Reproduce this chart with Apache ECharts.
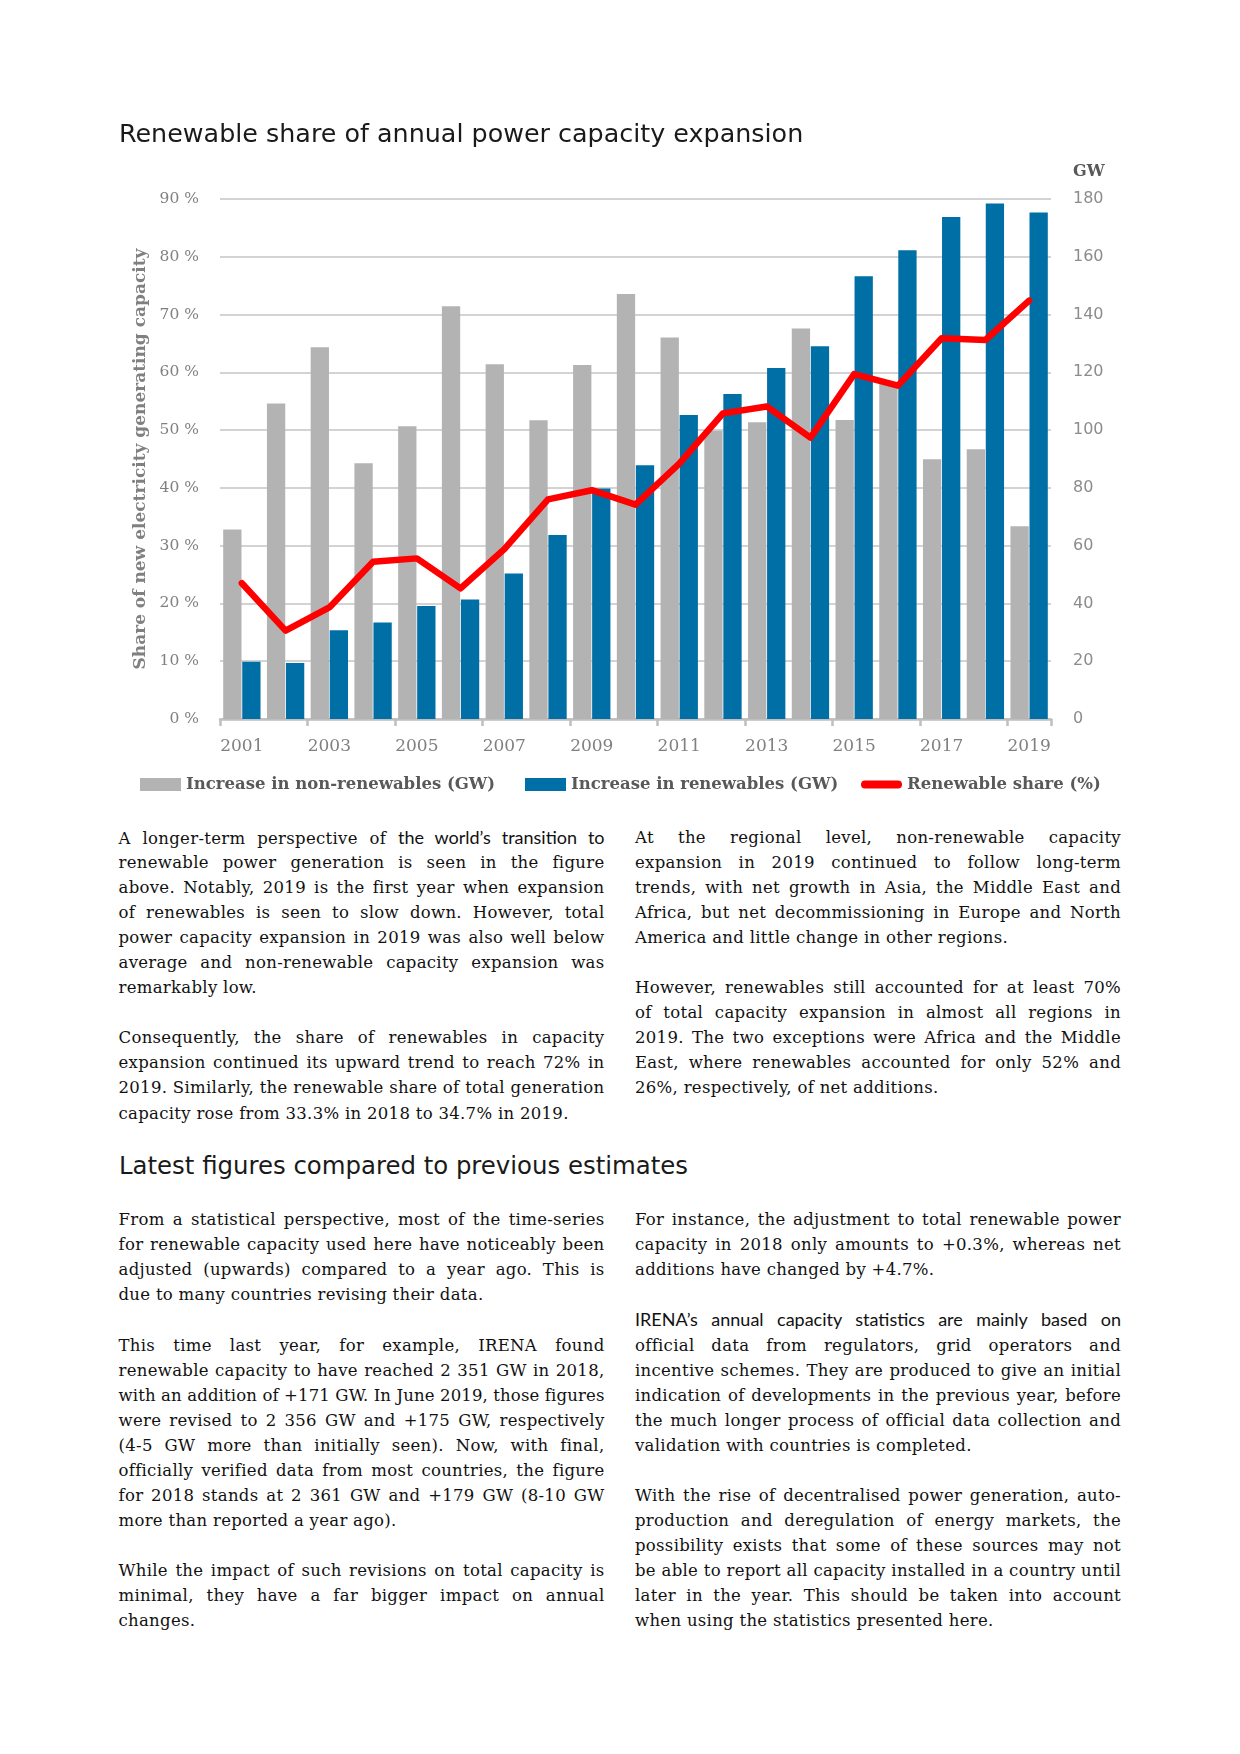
<!DOCTYPE html>
<html>
<head>
<meta charset="utf-8">
<script src="https://cdn.jsdelivr.net/npm/echarts@6/dist/echarts.min.js"></script>
<style>
  html, body { margin:0; padding:0; background:#fff; }
  body { width:1240px; height:1754px; position:relative; overflow:hidden; }
  #chart { position:absolute; left:0; top:0; width:1240px; height:810px; }
  .col { position:absolute; width:486px; font-family:"DejaVu Serif", serif; font-size:16.5px; letter-spacing:0.3px; color:#111; }
  .ln { height:25.05px; line-height:25.05px; white-space:nowrap; }
  .ln span.t { display:inline-block; }
  .gap { height:25.05px; }
  .sans { font-family:Lato, "Open Sans", sans-serif; font-size:18px; letter-spacing:0; }
  h2 { position:absolute; left:119px; top:1151px; margin:0; font-family:"DejaVu Sans", sans-serif; font-weight:normal; font-size:24.4px; line-height:30px; color:#1a1a1a; }
</style>
</head>
<body>
<div id="chart"></div>

<div class="col" style="left:118.5px; top:825px;">
  <div class="ln j"><span class="t">A longer-term perspective of <span class="sans">the world’s transition to</span></span></div>
  <div class="ln j"><span class="t">renewable power generation is seen in the figure</span></div>
  <div class="ln j"><span class="t">above. Notably, 2019 is the first year when expansion</span></div>
  <div class="ln j"><span class="t">of renewables is seen to slow down. However, total</span></div>
  <div class="ln j"><span class="t">power capacity expansion in 2019 was also well below</span></div>
  <div class="ln j"><span class="t">average and non-renewable capacity expansion was</span></div>
  <div class="ln"><span class="t">remarkably low.</span></div>
  <div class="gap"></div>
  <div class="ln j"><span class="t">Consequently, the share of renewables in capacity</span></div>
  <div class="ln j"><span class="t">expansion continued its upward trend to reach 72% in</span></div>
  <div class="ln j"><span class="t">2019. Similarly, the renewable share of total generation</span></div>
  <div class="ln"><span class="t">capacity rose from 33.3% in 2018 to 34.7% in 2019.</span></div>
</div>

<div class="col" style="left:635px; top:825px;">
  <div class="ln j"><span class="t">At the regional level, non-renewable capacity</span></div>
  <div class="ln j"><span class="t">expansion in 2019 continued to follow long-term</span></div>
  <div class="ln j"><span class="t">trends, with net growth in Asia, the Middle East and</span></div>
  <div class="ln j"><span class="t">Africa, but net decommissioning in Europe and North</span></div>
  <div class="ln"><span class="t">America and little change in other regions.</span></div>
  <div class="gap"></div>
  <div class="ln j"><span class="t">However, renewables still accounted for at least 70%</span></div>
  <div class="ln j"><span class="t">of total capacity expansion in almost all regions in</span></div>
  <div class="ln j"><span class="t">2019. The two exceptions were Africa and the Middle</span></div>
  <div class="ln j"><span class="t">East, where renewables accounted for only 52% and</span></div>
  <div class="ln"><span class="t">26%, respectively, of net additions.</span></div>
</div>

<h2>Latest figures compared to previous estimates</h2>

<div class="col" style="left:118.5px; top:1207.3px;">
  <div class="ln j"><span class="t">From a statistical perspective, most of the time-series</span></div>
  <div class="ln j"><span class="t">for renewable capacity used here have noticeably been</span></div>
  <div class="ln j"><span class="t">adjusted (upwards) compared to a year ago. This is</span></div>
  <div class="ln"><span class="t">due to many countries revising their data.</span></div>
  <div class="gap"></div>
  <div class="ln j"><span class="t">This time last year, for example, IRENA found</span></div>
  <div class="ln j"><span class="t">renewable capacity to have reached 2 351 GW in 2018,</span></div>
  <div class="ln j"><span class="t">with an addition of +171 GW. In June 2019, those figures</span></div>
  <div class="ln j"><span class="t">were revised to 2 356 GW and +175 GW, respectively</span></div>
  <div class="ln j"><span class="t">(4-5 GW more than initially seen). Now, with final,</span></div>
  <div class="ln j"><span class="t">officially verified data from most countries, the figure</span></div>
  <div class="ln j"><span class="t">for 2018 stands at 2 361 GW and +179 GW (8-10 GW</span></div>
  <div class="ln"><span class="t">more than reported a year ago).</span></div>
  <div class="gap"></div>
  <div class="ln j"><span class="t">While the impact of such revisions on total capacity is</span></div>
  <div class="ln j"><span class="t">minimal, they have a far bigger impact on annual</span></div>
  <div class="ln"><span class="t">changes.</span></div>
</div>

<div class="col" style="left:635px; top:1207.3px;">
  <div class="ln j"><span class="t">For instance, the adjustment to total renewable power</span></div>
  <div class="ln j"><span class="t">capacity in 2018 only amounts to +0.3%, whereas net</span></div>
  <div class="ln"><span class="t">additions have changed by +4.7%.</span></div>
  <div class="gap"></div>
  <div class="ln j"><span class="t"><span class="sans">IRENA’s annual capacity statistics are mainly based on</span></span></div>
  <div class="ln j"><span class="t">official data from regulators, grid operators and</span></div>
  <div class="ln j"><span class="t">incentive schemes. They are produced to give an initial</span></div>
  <div class="ln j"><span class="t">indication of developments in the previous year, before</span></div>
  <div class="ln j"><span class="t">the much longer process of official data collection and</span></div>
  <div class="ln"><span class="t">validation with countries is completed.</span></div>
  <div class="gap"></div>
  <div class="ln j"><span class="t">With the rise of decentralised power generation, auto-</span></div>
  <div class="ln j"><span class="t">production and deregulation of energy markets, the</span></div>
  <div class="ln j"><span class="t">possibility exists that some of these sources may not</span></div>
  <div class="ln j"><span class="t">be able to report all capacity installed in a country until</span></div>
  <div class="ln j"><span class="t">later in the year. This should be taken into account</span></div>
  <div class="ln"><span class="t">when using the statistics presented here.</span></div>
</div>

<script>
// ---- data ----
const years = ['2001','2002','2003','2004','2005','2006','2007','2008','2009','2010',
               '2011','2012','2013','2014','2015','2016','2017','2018','2019'];
const nonRenewablesGW = [65.6, 109.2, 128.7, 88.5, 101.3, 142.9, 122.8, 103.4, 122.5, 147.1,
                         132.1, 99.8, 102.7, 135.2, 103.5, 116.5, 89.9, 93.4, 66.7];
const renewablesGW = [19.8, 19.4, 30.7, 33.4, 39.1, 41.4, 50.4, 63.7, 79.8, 87.8,
                      105.2, 112.5, 121.5, 129.0, 153.3, 162.3, 173.8, 178.4, 175.3];
const renewableSharePct = [23.5, 15.3, 19.3, 27.2, 27.8, 22.6, 29.4, 38.0, 39.6, 37.1,
                           44.2, 52.9, 54.1, 48.7, 59.7, 57.7, 65.9, 65.6, 72.4];
const shareAxis = { min: 0, max: 90, step: 10 };
const gwAxis = { min: 0, max: 180, step: 20 };
const seriesNames = ['Increase in non-renewables (GW)', 'Increase in renewables (GW)', 'Renewable share (%)'];

const GRAY = '#b3b3b3', BLUE = '#006fa6', RED = '#ff0000';
const legendText = { fontFamily: 'DejaVu Serif', fontWeight: 'bold', fontSize: 16.5, color: '#595959' };

const chart = echarts.init(document.getElementById('chart'), null, { renderer: 'canvas' });
chart.setOption({
  animation: false,
  title: {
    text: 'Renewable share of annual power capacity expansion',
    left: 119, top: 123, padding: 0,
    textStyle: { fontFamily: 'DejaVu Sans', fontWeight: 'normal', fontSize: 25.4, color: '#1a1a1a' }
  },
  grid: { left: 220, right: 189, top: 199, bottom: 91, containLabel: false },
  legend: [
    { left: 140, top: 776, padding: 0, data: [{ name: seriesNames[0], icon: 'rect' }],
      itemWidth: 41, itemHeight: 13, itemGap: 0, textStyle: legendText, itemStyle: { borderWidth: 0 } },
    { left: 525, top: 776, padding: 0, data: [{ name: seriesNames[1], icon: 'rect' }],
      itemWidth: 41, itemHeight: 13, itemGap: 0, textStyle: legendText, itemStyle: { borderWidth: 0 } },
    { left: 861, top: 776, padding: 0,
      data: [{ name: seriesNames[2], icon: 'path://M4,0 L37,0 A4,4 0 0 1 37,8 L4,8 A4,4 0 0 1 4,0 Z' }],
      itemWidth: 41, itemHeight: 13, itemGap: 0, textStyle: legendText,
      itemStyle: { borderWidth: 0 }, lineStyle: { width: 0 } }
  ],
  graphic: [{
    type: 'text', left: 1073, top: 164,
    style: { text: 'GW', font: 'bold 16px "DejaVu Serif"', fill: '#595959' }
  }],
  xAxis: {
    type: 'category', data: years,
    axisLine: { lineStyle: { color: '#bfbfbf', width: 2.5 } },
    axisTick: { show: true, interval: 1, length: 7, lineStyle: { color: '#bfbfbf', width: 2.5 } },
    axisLabel: { interval: 1, margin: 19, color: '#808080', fontFamily: 'DejaVu Serif', fontSize: 17 }
  },
  yAxis: [
    {
      type: 'value', position: 'left', min: shareAxis.min, max: shareAxis.max, interval: shareAxis.step,
      axisLine: { show: false }, axisTick: { show: false },
      splitLine: { lineStyle: { color: '#d3d3d3', width: 2 } },
      axisLabel: { formatter: '{value} %', margin: 21, color: '#808080', fontFamily: 'DejaVu Serif', fontSize: 15.5 },
      name: 'Share of new electricity generating capacity',
      nameLocation: 'middle', nameRotate: 90, nameGap: 69,
      nameTextStyle: { fontFamily: 'DejaVu Serif', fontWeight: 'bold', fontSize: 17, color: '#808080' }
    },
    {
      type: 'value', position: 'right', min: gwAxis.min, max: gwAxis.max, interval: gwAxis.step,
      axisLine: { show: false }, axisTick: { show: false }, splitLine: { show: false },
      axisLabel: { margin: 22, color: '#8c8c8c', fontFamily: 'DejaVu Sans', fontSize: 16 }
    }
  ],
  series: [
    { name: seriesNames[0], type: 'bar', yAxisIndex: 1, data: nonRenewablesGW,
      barWidth: 18.3, barGap: '4%', itemStyle: { color: GRAY } },
    { name: seriesNames[1], type: 'bar', yAxisIndex: 1, data: renewablesGW,
      barWidth: 18.3, barGap: '4%', itemStyle: { color: BLUE } },
    { name: seriesNames[2], type: 'line', yAxisIndex: 0, data: renewableSharePct,
      symbol: 'none', showSymbol: false, z: 5,
      lineStyle: { color: RED, width: 6.5, cap: 'round', join: 'round' },
      itemStyle: { color: RED } }
  ]
});

// fit each text line to the column width (justify / squeeze)
document.querySelectorAll('.ln').forEach(el => {
  const W = el.parentElement.clientWidth;
  const span = el.querySelector('span.t');
  const nat = span.getBoundingClientRect().width;
  const txt = span.textContent;
  if (nat > W) {
    const cur = parseFloat(getComputedStyle(el).letterSpacing) || 0;
    el.style.letterSpacing = (cur + (W - nat) / txt.length) + 'px';
  } else if (el.classList.contains('j')) {
    const n = (txt.match(/ /g) || []).length;
    if (n) el.style.wordSpacing = ((W - nat) / n) + 'px';
  }
});
</script>
</body>
</html>
